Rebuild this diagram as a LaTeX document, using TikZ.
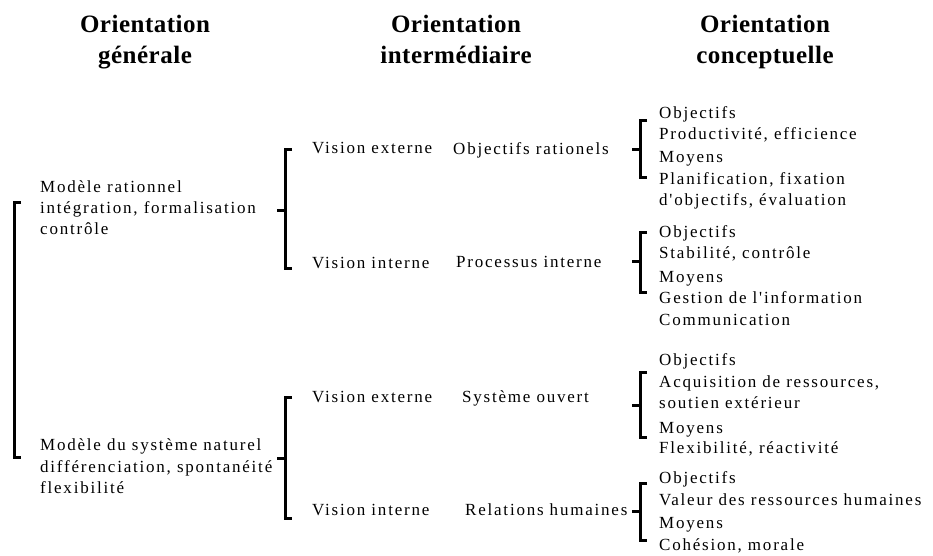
\documentclass[tikz,border=0pt]{standalone}
\usepackage{fontspec}
\setmainfont{Liberation Serif}
\newfontfamily\bodyfont[LetterSpace=10.5]{Liberation Serif}
\newfontfamily\headfont[LetterSpace=2]{Liberation Serif}

% square bracket: x, top y, bottom y, y of the outer tick
\newcommand\sqbrk[4]{%
  \draw[brk] ({#1+7},#2) -- (#1,#2) -- (#1,#3) -- ({#1+7},#3);
  \draw[brk] ({#1-8},#4) -- (#1,#4);}
% bracket with no outer tick
\newcommand\sqbrkplain[3]{%
  \draw[brk] ({#1+7},#2) -- (#1,#2) -- (#1,#3) -- ({#1+7},#3);}

\begin{document}
\begin{tikzpicture}[x=1pt,y=-1pt,
  head/.style={font=\headfont\bfseries\fontsize{25}{30}\selectfont, inner sep=0pt, anchor=base},
  txt/.style={font=\bodyfont\fontsize{17}{20}\selectfont, inner sep=0pt, anchor=mid west, yshift=-3.5pt},
  brk/.style={line width=3pt, line cap=butt, line join=miter}]
\path[use as bounding box, fill=white] (0,0) rectangle (933,555);

% column headings
\node[head] (h1a) at (145,32) {Orientation};
\node[head] (h1b) at (145,63) {générale};
\node[head] (h2a) at (456,32) {Orientation};
\node[head] (h2b) at (456,63) {intermédiaire};
\node[head] (h3a) at (765,32) {Orientation};
\node[head] (h3b) at (765,63) {conceptuelle};

% general orientation
\node[txt] (m1a) at (40,187) {Modèle rationnel};
\node[txt] (m1b) at (40,208) {intégration, formalisation};
\node[txt] (m1c) at (40,229) {contrôle};
\node[txt] (m2a) at (40,445) {Modèle du système naturel};
\node[txt] (m2b) at (40,467) {différenciation, spontanéité};
\node[txt] (m2c) at (40,488) {flexibilité};
\sqbrkplain{14}{202}{457}

% intermediate orientation
\node[txt] (v1) at (312,148) {Vision externe};
\node[txt] (v2) at (312,263) {Vision interne};
\node[txt] (v3) at (312,397) {Vision externe};
\node[txt] (v4) at (312,510) {Vision interne};
\node[txt] (o1) at (453,149) {Objectifs rationels};
\node[txt] (o2) at (456,262) {Processus interne};
\node[txt] (o3) at (462,397) {Système ouvert};
\node[txt] (o4) at (465,510) {Relations humaines};
\sqbrk{285}{149}{268}{210}
\sqbrk{285}{397}{518}{458}

% conceptual orientation
\node[txt] (a1) at (659,113) {Objectifs};
\node[txt] (a2) at (659,134) {Productivité, efficience};
\node[txt] (a3) at (659,157) {Moyens};
\node[txt] (a4) at (659,179) {Planification, fixation};
\node[txt] (a5) at (659,200) {d'objectifs, évaluation};
\sqbrk{640}{120}{177}{149}

\node[txt] (b1) at (659,232) {Objectifs};
\node[txt] (b2) at (659,253) {Stabilité, contrôle};
\node[txt] (b3) at (659,277) {Moyens};
\node[txt] (b4) at (659,298) {Gestion de l'information};
\node[txt] (b5) at (659,320) {Communication};
\sqbrk{640}{232}{292}{261}

\node[txt] (c1) at (659,360) {Objectifs};
\node[txt] (c2) at (659,382) {Acquisition de ressources,};
\node[txt] (c3) at (659,403) {soutien extérieur};
\node[txt] (c4) at (659,428) {Moyens};
\node[txt] (c5) at (659,448) {Flexibilité, réactivité};
\sqbrk{640}{372}{437}{405}

\node[txt] (d1) at (659,478) {Objectifs};
\node[txt] (d2) at (659,500) {Valeur des ressources humaines};
\node[txt] (d3) at (659,523) {Moyens};
\node[txt] (d4) at (659,545) {Cohésion, morale};
\sqbrk{640}{483}{540}{511}
\end{tikzpicture}
\end{document}
